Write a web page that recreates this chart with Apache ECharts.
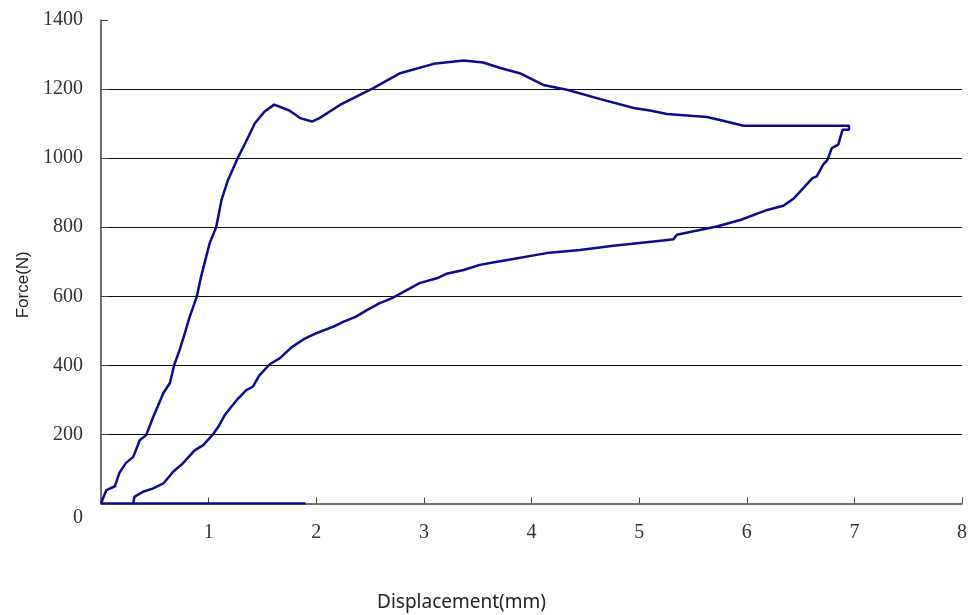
<!DOCTYPE html>
<html>
<head>
<meta charset="utf-8">
<script src="https://cdn.jsdelivr.net/npm/echarts@6/dist/echarts.min.js"></script>
<style>
  html, body { margin: 0; padding: 0; background: #fff; }
  #chart { width: 968px; height: 615px; }
</style>
</head>
<body>
<div id="chart"></div>
<script>
// loop: loading branch then unloading branch (displacement in mm, force in N)
var loopX = [0, 0.05, 0.13, 0.17, 0.23, 0.30, 0.36, 0.42, 0.48, 0.58, 0.64, 0.68, 0.73, 0.78, 0.82, 0.89, 0.93,
    1.01, 1.07, 1.12, 1.18, 1.27, 1.34, 1.43, 1.52, 1.61, 1.75, 1.85, 1.96, 2.03, 2.22, 2.53, 2.78, 3.09, 3.37,
    3.55, 3.71, 3.89, 4.11, 4.33, 4.64, 4.95, 5.10, 5.26, 5.63, 5.77, 5.97, 6.95, 6.95, 6.89, 6.85, 6.79, 6.75,
    6.71, 6.65, 6.61, 6.54, 6.44, 6.34, 6.19, 5.94, 5.72, 5.35, 5.32, 5.20, 4.76, 4.45, 4.14, 3.83, 3.68, 3.52,
    3.37, 3.21, 3.12, 2.96, 2.79, 2.70, 2.59, 2.47, 2.37, 2.25, 2.16, 2.00, 1.88, 1.77, 1.66, 1.57, 1.47, 1.41,
    1.35, 1.26, 1.15, 1.09, 1.04, 0.95, 0.87, 0.76, 0.67, 0.58, 0.48, 0.39, 0.31, 0.30];
var loopF = [0, 39, 50, 88, 117, 135, 183, 198, 247, 320, 349, 401, 444, 494, 537, 599, 657,
    754, 800, 879, 937, 1000, 1043, 1101, 1135, 1155, 1138, 1116, 1106, 1116, 1154, 1203, 1246, 1273, 1283,
    1277, 1261, 1246, 1212, 1198, 1171, 1145, 1138, 1128, 1119, 1109, 1094, 1094, 1082, 1082, 1039, 1029, 995,
    981, 947, 942, 918, 884, 862, 850, 821, 802, 778, 765, 761, 746, 734, 725, 708, 700, 691,
    676, 665, 652, 638, 609, 594, 580, 560, 541, 526, 512, 493, 475, 452, 420, 404, 370, 338,
    328, 299, 256, 222, 200, 169, 154, 116, 92, 58, 43, 34, 19, 0];

// flat segment along zero force
var baseX = [0, 1.90];
var baseF = [0, 0];

var xTicks = [0, 1, 2, 3, 4, 5, 6, 7, 8];
var yTicks = [0, 200, 400, 600, 800, 1000, 1200, 1400];

function pairs(xs, ys) {
    var out = [];
    for (var i = 0; i < Math.min(xs.length, ys.length); i++) {
        out.push([xs[i], ys[i]]);
    }
    return out;
}

var myChart = echarts.init(document.getElementById('chart'));
var lineColor = '#0c0c8e';
var tickFont = 'Liberation Serif';

var option = {
    animation: false,
    grid: { left: 101, right: 6, top: 20, bottom: 111.5, outerBoundsMode: 'none' },
    xAxis: {
        type: 'value',
        min: xTicks[0],
        max: xTicks[xTicks.length - 1],
        interval: 1,
        name: 'Displacement(mm)',
        nameLocation: 'middle',
        nameGap: 90,
        nameTextStyle: {
            fontFamily: 'Noto Sans',
            fontSize: 19,
            color: '#222',
            padding: [0, 140, 0, 0]
        },
        axisLine: { lineStyle: { color: '#444', width: 1.5 } },
        axisTick: { inside: true, length: 6, lineStyle: { color: '#444' } },
        axisLabel: {
            margin: 19,
            fontFamily: tickFont,
            fontSize: 20,
            color: '#333',
            formatter: function (v) { return v === 0 ? '' : String(v); }
        },
        splitLine: { show: false }
    },
    yAxis: {
        type: 'value',
        min: yTicks[0],
        max: yTicks[yTicks.length - 1],
        interval: 200,
        name: 'Force(N)',
        nameLocation: 'middle',
        nameGap: 68,
        nameTextStyle: {
            fontFamily: 'Liberation Sans',
            fontSize: 17,
            color: '#222',
            padding: [0, 46, 0, 0]
        },
        axisLine: { show: true, lineStyle: { color: '#444', width: 1.5 } },
        axisTick: { show: true, inside: true, length: 7, lineStyle: { color: '#444' } },
        axisLabel: {
            margin: 18,
            fontFamily: tickFont,
            fontSize: 20,
            color: '#333',
            formatter: function (v) { return v === 0 ? '{z|0}' : String(v); },
            rich: {
                z: { fontFamily: tickFont, fontSize: 20, color: '#333', padding: [29, 0, 0, 0] }
            }
        },
        splitLine: {
            show: true,
            showMinLine: false,
            showMaxLine: false,
            lineStyle: { color: '#111', width: 1.2 }
        }
    },
    series: [
        {
            name: 'Loop',
            type: 'line',
            showSymbol: false,
            symbol: 'none',
            lineStyle: { color: lineColor, width: 2.5 },
            data: pairs(loopX, loopF)
        },
        {
            name: 'Base',
            type: 'line',
            showSymbol: false,
            symbol: 'none',
            lineStyle: { color: lineColor, width: 2.5 },
            data: pairs(baseX, baseF)
        }
    ]
};

option && myChart.setOption(option);
</script>
</body>
</html>
